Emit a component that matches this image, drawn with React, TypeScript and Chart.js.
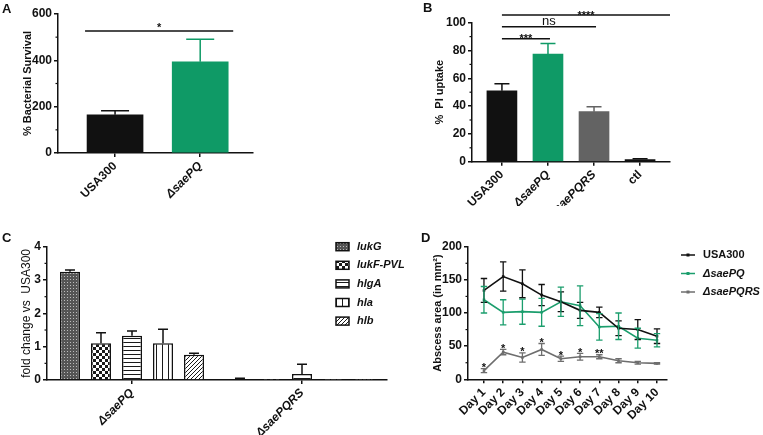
import React, { useEffect, useRef } from 'react';
import { Chart, registerables } from 'chart.js';

Chart.register(...registerables);

const FONT = "'Liberation Sans', Arial, Helvetica, sans-serif";
const INK = '#111111';
const GREEN = '#0f9a66';
const BAR_GRAY = '#636363';
const LINE_GREEN = '#1b9e6d';
const LINE_GRAY = '#6e6e6e';
const TICK_SIZE = 12;

// ---------------- Panel A ----------------
const aCategories = ['USA300', 'ΔsaePQ'];
const aValues = [165, 394];
const aErrors = [17, 97];
const aSigPairs = [[0, 1]];
const aSigLevels = [527];
const aSigLabels = ['*'];

// ---------------- Panel B ----------------
const bCategories = ['USA300', 'ΔsaePQ', 'ΔsaePQRS', 'ctl'];
const bValues = [51, 77.5, 36, 1.5];
const bErrors = [5, 7.5, 3.5, 0.6];
const bSigPairs = [[0, 1], [0, 2], [0, 3]];
const bSigLevels = [88.5, 97, 105.5];
const bSigLabels = ['***', 'ns', '****'];

// ---------------- Panel C ----------------
const cGroups = ['ΔsaePQ', 'ΔsaePQRS'];
const cGenes = ['lukG', 'lukF-PVL', 'hlgA', 'hla', 'hlb'];
const cLukG = [3.25, 0.03];
const cLukGErr = [0.05, 0.02];
const cLukF = [1.1, 0.006];
const cLukFErr = [0.32, 0];
const cHlgA = [1.33, 0.18];
const cHlgAErr = [0.14, 0.29];
const cHla = [1.1, 0.004];
const cHlaErr = [0.42, 0];
const cHlb = [0.76, 0.01];
const cHlbErr = [0.04, 0];

// ---------------- Panel D ----------------
const dDays = ['Day 1', 'Day 2', 'Day 3', 'Day 4', 'Day 5', 'Day 6', 'Day 7', 'Day 8', 'Day 9', 'Day 10'];
const dLegend = ['USA300', 'ΔsaePQ', 'ΔsaePQRS'];
const dUSA300 = [134, 155, 144, 127, 117, 104, 101, 77, 75, 65];
const dUSA300Err = [18, 22, 21, 16, 15, 12, 8, 11, 15, 11];
const dSaePQ = [120, 101, 102, 101, 117, 111, 79, 80, 62, 59];
const dSaePQErr = [20, 19, 19, 21, 22, 30, 20, 20, 15, 10];
const dSaePQRS = [13, 41, 33, 45, 31, 34, 34, 28, 25, 24];
const dSaePQRSErr = [3, 4, 7, 9, 4, 5, 3, 3, 2, 1];
const dStars = ['*', '*', '*', '*', '*', '*', '**', '', '', ''];

// ---------------- helpers ----------------
const pick = (c: any, i: number) => (Array.isArray(c) ? c[i] : c);

const errorBarPlugin = {
  id: 'errorBars',
  afterDatasetsDraw(chart: any) {
    const ctx = chart.ctx;
    const y = chart.scales.y;
    chart.data.datasets.forEach((ds: any, di: number) => {
      if (!ds.errors) return;
      const meta = chart.getDatasetMeta(di);
      meta.data.forEach((el: any, i: number) => {
        const e = ds.errors[i];
        if (!e) return;
        const raw = ds.data[i];
        const v = typeof raw === 'number' ? raw : raw.y;
        const top = y.getPixelForValue(v + e);
        const bottom = ds.errorBoth ? y.getPixelForValue(v - e) : y.getPixelForValue(v);
        const half = ds.errorCap != null ? ds.errorCap : (el.width || 8) / 4;
        ctx.save();
        ctx.strokeStyle = pick(ds.errorColor || INK, i);
        ctx.lineWidth = ds.errorWidth || 1.5;
        ctx.beginPath();
        ctx.moveTo(el.x, bottom);
        ctx.lineTo(el.x, top);
        ctx.moveTo(el.x - half, top);
        ctx.lineTo(el.x + half, top);
        if (ds.errorBoth) {
          ctx.moveTo(el.x - half, bottom);
          ctx.lineTo(el.x + half, bottom);
        }
        ctx.stroke();
        ctx.restore();
      });
    });
  },
};

const minorTickPlugin = {
  id: 'minorTicks',
  afterDraw(chart: any) {
    const y = chart.scales.y;
    const ctx = chart.ctx;
    const x0 = chart.chartArea.left;
    const vals = y.ticks.map((t: any) => t.value);
    ctx.save();
    ctx.strokeStyle = INK;
    ctx.lineWidth = 1.2;
    for (let i = 0; i < vals.length - 1; i++) {
      const py = y.getPixelForValue((vals[i] + vals[i + 1]) / 2);
      ctx.beginPath();
      ctx.moveTo(x0 - 2.5, py);
      ctx.lineTo(x0, py);
      ctx.stroke();
    }
    ctx.restore();
  },
};

function significancePlugin(pairs: number[][], levels: number[], labels: string[], o: any) {
  return {
    id: 'significance',
    afterDraw(chart: any) {
      const { ctx, chartArea } = chart;
      const x = chart.scales.x;
      const y = chart.scales.y;
      pairs.forEach(([a, b], i) => {
        const py = y.getPixelForValue(levels[i]);
        const x1 = x.getPixelForValue(a) - o.startPad;
        let x2 = x.getPixelForValue(b) + o.endPad;
        if (o.lastToEdge && i === pairs.length - 1) x2 = chartArea.right;
        ctx.save();
        ctx.strokeStyle = INK;
        ctx.lineWidth = 1.5;
        ctx.beginPath();
        ctx.moveTo(x1, py);
        ctx.lineTo(x2, py);
        ctx.stroke();
        const label = labels[i];
        const isStar = /^\*+$/.test(label);
        ctx.fillStyle = INK;
        ctx.font = isStar ? `bold 11px ${FONT}` : `13px ${FONT}`;
        ctx.textAlign = 'center';
        ctx.textBaseline = 'alphabetic';
        ctx.fillText(label, (x1 + x2) / 2, isStar ? py + o.starShift : py - 1.5);
        ctx.restore();
      });
    },
  };
}

function linearCatAxis(labels: string[], min: number, max: number, height: number) {
  return {
    type: 'linear',
    min,
    max,
    bounds: 'data',
    offset: false,
    afterBuildTicks: (s: any) => {
      s.ticks = labels.map((_, i) => ({ value: i }));
    },
    afterFit: (s: any) => {
      s.height = height;
    },
    ticks: {
      autoSkip: false,
      maxRotation: 45,
      minRotation: 45,
      padding: 2,
      color: INK,
      callback: (v: any) => labels[v] ?? '',
      font: (c: any) => ({
        family: FONT,
        size: TICK_SIZE,
        weight: 'bold',
        style: String(labels[c?.tick?.value] ?? '').startsWith('Δ') ? 'italic' : 'normal',
      }),
    },
    grid: { display: true, drawOnChartArea: false, drawTicks: true, tickLength: 4, color: INK, lineWidth: 1.5, offset: false },
    border: { display: true, color: INK, width: 1.5 },
  };
}

function valueAxis(min: number, max: number, step: number, width: number, title: string, size: number, weight: string, titleCenter: number) {
  return {
    min,
    max,
    afterFit: (s: any) => {
      s.width = width;
    },
    ticks: { stepSize: step, padding: 2, color: INK, font: { family: FONT, size: TICK_SIZE, weight: 'bold' } },
    grid: { display: true, drawOnChartArea: false, drawTicks: true, tickLength: 4, color: INK, lineWidth: 1.5 },
    border: { display: true, color: INK, width: 1.5 },
    title: {
      display: true,
      text: title,
      color: INK,
      font: { family: FONT, size, weight },
      padding: { top: titleCenter - (size * 1.2) / 2, bottom: 0 },
    },
  };
}

const baseOptions = (padding: any) => ({
  responsive: false,
  animation: false,
  events: [],
  layout: { padding, autoPadding: false },
  plugins: { legend: { display: false }, tooltip: { enabled: false } },
});

function makePattern(kind: string): any {
  const size = kind === 'checker' ? 6 : kind === 'dense' ? 3 : kind === 'vert' ? 6 : 4;
  const c = document.createElement('canvas');
  c.width = size;
  c.height = size;
  const g = c.getContext('2d')!;
  g.fillStyle = '#ffffff';
  g.fillRect(0, 0, size, size);
  g.fillStyle = '#1a1a1a';
  g.strokeStyle = '#1a1a1a';
  if (kind === 'dense') {
    g.fillStyle = '#555555';
    g.fillRect(0, 0, size, size);
    g.fillStyle = '#bdbdbd';
    g.fillRect(1, 1, 1, 1);
  } else if (kind === 'checker') {
    g.fillRect(0, 0, 3, 3);
    g.fillRect(3, 3, 3, 3);
  } else if (kind === 'horiz') {
    g.fillRect(0, 0, size, 1);
  } else if (kind === 'vert') {
    g.fillRect(0, 0, 1, size);
  } else if (kind === 'diag') {
    g.lineWidth = 1;
    g.beginPath();
    g.moveTo(0, size);
    g.lineTo(size, 0);
    g.moveTo(-1, 1);
    g.lineTo(1, -1);
    g.moveTo(size - 1, size + 1);
    g.lineTo(size + 1, size - 1);
    g.stroke();
  }
  return g.createPattern(c, 'repeat');
}

// ---------------- chart factories ----------------
function makeA() {
  return {
    type: 'bar',
    data: {
      datasets: [
        {
          data: aValues.map((v, i) => ({ x: i, y: v })),
          backgroundColor: [INK, GREEN],
          errorColor: [INK, GREEN],
          errors: aErrors,
          barThickness: 56,
          borderWidth: 0,
        },
      ],
    },
    options: {
      ...baseOptions({ left: 0, top: 14, right: 12, bottom: 0 }),
      scales: {
        x: linearCatAxis(aCategories, -0.67, 1.62, 62),
        y: valueAxis(0, 600, 200, 58, '% Bacterial Survival', 11, 'bold', 27.5),
      },
    },
    plugins: [errorBarPlugin, minorTickPlugin, significancePlugin(aSigPairs, aSigLevels, aSigLabels, { startPad: 30, endPad: 33, starShift: 0.5 })],
  };
}

function makeB() {
  const colors = [INK, GREEN, BAR_GRAY, INK];
  return {
    type: 'bar',
    data: {
      datasets: [
        {
          data: bValues.map((v, i) => ({ x: i, y: v })),
          backgroundColor: colors,
          errorColor: colors,
          errors: bErrors,
          barThickness: 30,
          borderWidth: 0,
        },
      ],
    },
    options: {
      ...baseOptions({ left: 0, top: 22.7, right: 93, bottom: 0 }),
      scales: {
        x: linearCatAxis(bCategories, -0.65, 3.65, 44.3),
        y: valueAxis(0, 100, 20, 52, '%  PI uptake', 11, 'bold', 20),
      },
    },
    plugins: [
      errorBarPlugin,
      minorTickPlugin,
      significancePlugin(bSigPairs, bSigLevels, bSigLabels, { startPad: 0, endPad: 2, lastToEdge: true, starShift: 3.5 }),
    ],
  };
}

function makeC() {
  const kinds = ['dense', 'checker', 'horiz', 'vert', 'diag'];
  const values = [cLukG, cLukF, cHlgA, cHla, cHlb];
  const errors = [cLukGErr, cLukFErr, cHlgAErr, cHlaErr, cHlbErr];
  const legendPlugin = {
    id: 'patternLegend',
    afterDraw(chart: any) {
      const ctx = chart.ctx;
      chart.data.datasets.forEach((ds: any, i: number) => {
        const y = 28.7 + i * 18.6;
        ctx.save();
        ctx.fillStyle = ds.backgroundColor;
        ctx.fillRect(336, y - 4, 13, 8);
        ctx.strokeStyle = INK;
        ctx.lineWidth = 1.5;
        ctx.strokeRect(336, y - 4, 13, 8);
        ctx.fillStyle = INK;
        ctx.font = `italic bold 11px ${FONT}`;
        ctx.textAlign = 'left';
        ctx.textBaseline = 'middle';
        ctx.fillText(ds.label, 357, y);
        ctx.restore();
      });
    },
  };
  return {
    type: 'bar',
    data: {
      labels: cGroups,
      datasets: cGenes.map((g, i) => ({
        label: g,
        data: values[i],
        errors: errors[i],
        errorColor: INK,
        backgroundColor: makePattern(kinds[i]),
        borderColor: INK,
        borderWidth: 1.5,
        barPercentage: 0.645,
        categoryPercentage: 0.912,
      })),
    },
    options: {
      ...baseOptions({ left: 0, top: 28.7, right: 23, bottom: 0 }),
      scales: {
        x: {
          type: 'category',
          offset: true,
          afterFit: (s: any) => {
            s.height = 55;
          },
          ticks: {
            autoSkip: false,
            maxRotation: 45,
            minRotation: 45,
            padding: 2,
            color: INK,
            font: { family: FONT, size: TICK_SIZE, weight: 'bold', style: 'italic' },
          },
          grid: { display: true, drawOnChartArea: false, drawTicks: true, tickLength: 4, color: INK, lineWidth: 1.5, offset: false },
          border: { display: true, color: INK, width: 1.5 },
        },
        y: valueAxis(0, 4, 1, 47, 'fold change vs  USA300', 12, 'normal', 26.5),
      },
    },
    plugins: [errorBarPlugin, minorTickPlugin, legendPlugin],
  };
}

function makeD() {
  const series = [dUSA300, dSaePQ, dSaePQRS];
  const errs = [dUSA300Err, dSaePQErr, dSaePQRSErr];
  const colors = [INK, LINE_GREEN, LINE_GRAY];
  const legendPlugin = {
    id: 'lineLegend',
    afterDraw(chart: any) {
      const ctx = chart.ctx;
      chart.data.datasets.forEach((ds: any, i: number) => {
        const y = 37 + i * 18.5;
        ctx.save();
        ctx.strokeStyle = ds.borderColor;
        ctx.fillStyle = ds.borderColor;
        ctx.lineWidth = 1.5;
        ctx.beginPath();
        ctx.moveTo(281, y);
        ctx.lineTo(295, y);
        ctx.stroke();
        ctx.fillRect(286.5, y - 1.5, 3, 3);
        ctx.fillStyle = INK;
        const italic = String(ds.label).startsWith('Δ');
        ctx.font = `${italic ? 'italic ' : ''}bold 11px ${FONT}`;
        ctx.textAlign = 'left';
        ctx.textBaseline = 'middle';
        ctx.fillText(ds.label, 303, y);
        ctx.restore();
      });
    },
  };
  const starPlugin = {
    id: 'dayStars',
    afterDraw(chart: any) {
      const ctx = chart.ctx;
      const x = chart.scales.x;
      const y = chart.scales.y;
      ctx.save();
      ctx.fillStyle = INK;
      ctx.font = `bold 11px ${FONT}`;
      ctx.textAlign = 'center';
      ctx.textBaseline = 'alphabetic';
      dStars.forEach((s, i) => {
        if (!s) return;
        const top = y.getPixelForValue(dSaePQRS[i] + dSaePQRSErr[i]);
        ctx.fillText(s, x.getPixelForValue(i + 1), top + 2.5);
      });
      ctx.restore();
    },
  };
  return {
    type: 'line',
    data: {
      datasets: series.map((vals, si) => ({
        label: dLegend[si],
        data: vals.map((v, i) => ({ x: i + 1, y: v })),
        borderColor: colors[si],
        backgroundColor: colors[si],
        borderWidth: 1.6,
        pointRadius: 1.8,
        pointStyle: 'rect',
        pointBorderWidth: 0,
        tension: 0,
        errors: errs[si],
        errorBoth: true,
        errorCap: 3.2,
        errorWidth: 1.3,
        errorColor: colors[si],
      })),
    },
    options: {
      ...baseOptions({ left: 0, top: 28.7, right: 96, bottom: 0 }),
      scales: {
        x: {
          type: 'linear',
          min: 0.17,
          max: 10.52,
          bounds: 'data',
          afterBuildTicks: (s: any) => {
            s.ticks = dDays.map((_, i) => ({ value: i + 1 }));
          },
          afterFit: (s: any) => {
            s.height = 55.7;
          },
          ticks: {
            autoSkip: false,
            maxRotation: 45,
            minRotation: 45,
            padding: 2,
            color: INK,
            callback: (v: any) => dDays[v - 1] ?? '',
            font: { family: FONT, size: TICK_SIZE, weight: 'bold' },
          },
          grid: { display: true, drawOnChartArea: false, drawTicks: true, tickLength: 4, color: INK, lineWidth: 1.5 },
          border: { display: true, color: INK, width: 1.5 },
        },
        y: valueAxis(0, 200, 50, 68, 'Abscess area (in mm²)', 11, 'bold', 38),
      },
    },
    plugins: [errorBarPlugin, minorTickPlugin, starPlugin, legendPlugin],
  };
}

// ---------------- components ----------------
function ChartBox({ left, top, width, height, make }: any) {
  const ref = useRef<HTMLCanvasElement>(null);
  useEffect(() => {
    const chart = new Chart(ref.current as any, make() as any);
    return () => chart.destroy();
  }, []);
  return (
    <div style={{ position: 'absolute', left, top, width, height }}>
      <canvas ref={ref} width={width} height={height} style={{ width, height, display: 'block' }} />
    </div>
  );
}

function Letter({ text, left, top }: any) {
  return (
    <div
      style={{
        position: 'absolute',
        left,
        top,
        fontFamily: FONT,
        fontWeight: 'bold',
        fontSize: 13,
        lineHeight: '13px',
        color: INK,
      }}
    >
      {text}
    </div>
  );
}

export default function App() {
  return (
    <div style={{ position: 'absolute', left: 0, top: 0, width: 763, height: 435, background: '#ffffff', overflow: 'hidden' }}>
      <ChartBox left={0} top={0} width={265} height={215} make={makeA} />
      <ChartBox left={420} top={0} width={343} height={206} make={makeB} />
      <ChartBox left={0} top={218} width={410} height={217} make={makeC} />
      <ChartBox left={400} top={218} width={363} height={217} make={makeD} />
      <Letter text="A" left={2} top={2} />
      <Letter text="B" left={423} top={1} />
      <Letter text="C" left={2} top={231} />
      <Letter text="D" left={421} top={231} />
    </div>
  );
}
